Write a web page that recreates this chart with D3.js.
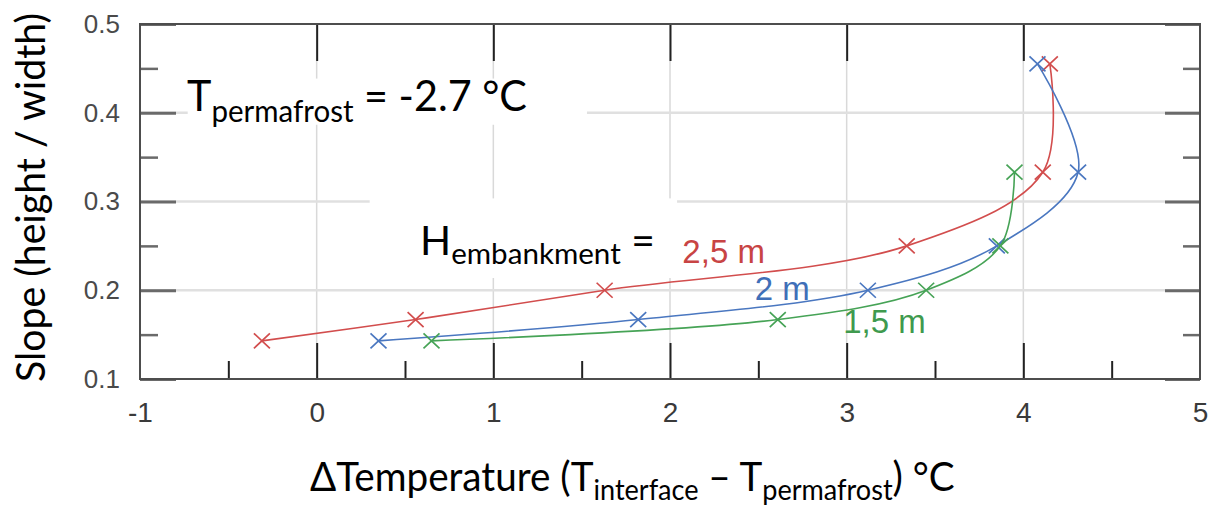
<!DOCTYPE html>
<html>
<head>
<meta charset="utf-8">
<script src="https://cdn.jsdelivr.net/npm/d3@7"></script>
<style>
  html, body { margin: 0; padding: 0; background: #fff; }
  svg { display: block; }
</style>
</head>
<body>
<svg id="chart" width="1212" height="506"></svg>
<script>
'use strict';

// slope values (height / width) shared by all runs
var slopes = [0.143, 0.167, 0.2, 0.25, 0.333, 0.455];

// delta temperature, one array per embankment height
var dT25 = [-0.31, 0.56, 1.63, 3.34, 4.11, 4.15];
var dT20 = [0.35, 1.82, 3.12, 3.85, 4.31, 4.08];
var dT15 = [0.65, 2.61, 3.45, 3.87, 3.95];

var seriesNames = ['2,5 m', '2 m', '1,5 m'];
var seriesColors = ['#d24d4d', '#4a77c0', '#46a356'];
var labelColors = ['#c84444', '#3f6fb8', '#3f9a4e'];

var xTicks = [-1, 0, 1, 2, 3, 4, 5];
var xMinor = [-0.5, 0.5, 1.5, 2.5, 3.5, 4.5];
var yTicks = [0.1, 0.2, 0.3, 0.4, 0.5];
var yMinor = [0.15, 0.25, 0.35, 0.45];

var svg = d3.select('#chart');

var x = d3.scaleLinear().domain([-1, 5]).range([140, 1200]);
var y = d3.scaleLinear().domain([0.1, 0.5]).range([379, 24]);

// grid
var grid = svg.append('g');
grid.selectAll('line.v')
  .data(xTicks.slice(1, -1))
  .enter().append('line')
  .attr('x1', function (d) { return x(d); })
  .attr('x2', function (d) { return x(d); })
  .attr('y1', y(0.5)).attr('y2', y(0.1))
  .attr('stroke', '#d9d9d9').attr('stroke-width', 1.5);
grid.selectAll('line.h')
  .data(yTicks.slice(1, -1))
  .enter().append('line')
  .attr('y1', function (d) { return y(d); })
  .attr('y2', function (d) { return y(d); })
  .attr('x1', x(-1)).attr('x2', x(5))
  .attr('stroke', '#e0e0e0').attr('stroke-width', 2.5);

// white boxes behind the annotations (they hide the grid)
svg.append('rect')
  .attr('x', x(-0.73)).attr('y', y(0.4385))
  .attr('width', x(1.53) - x(-0.73)).attr('height', y(0.4) - y(0.4385) + 12)
  .attr('fill', '#fff');
svg.append('rect')
  .attr('x', x(0.3)).attr('y', y(0.3035))
  .attr('width', x(2.04) - x(0.3)).attr('height', y(0.2138) - y(0.3035))
  .attr('fill', '#fff');

// ticks (pointing inwards)
function styleAxis(g, color, width) {
  g.select('.domain').remove();
  g.selectAll('.tick line').attr('stroke', color).attr('stroke-width', width);
}

svg.append('g').attr('transform', 'translate(140,0)')
  .call(d3.axisLeft(y).tickValues(yMinor).tickSize(-18).tickFormat(''))
  .call(styleAxis, '#6a6a6a', 2.5);
svg.append('g').attr('transform', 'translate(140,0)')
  .call(d3.axisLeft(y).tickValues(yTicks).tickSize(-36).tickPadding(20).tickFormat(d3.format('.1f')))
  .call(styleAxis, '#6a6a6a', 3)
  .call(function (g) {
    g.selectAll('text').attr('font-family', '"Liberation Sans", Arial, sans-serif')
      .attr('font-size', 26).attr('fill', '#4a4a4a');
  });
svg.append('g').attr('transform', 'translate(1200,0)')
  .call(d3.axisRight(y).tickValues(yMinor).tickSize(-17).tickFormat(''))
  .call(styleAxis, '#6a6a6a', 2.5);
svg.append('g').attr('transform', 'translate(1200,0)')
  .call(d3.axisRight(y).tickValues(yTicks).tickSize(-35).tickFormat(''))
  .call(styleAxis, '#6a6a6a', 3);

svg.append('g').attr('transform', 'translate(0,379)')
  .call(d3.axisBottom(x).tickValues(xMinor).tickSize(-18).tickFormat(''))
  .call(styleAxis, '#222', 2);
svg.append('g').attr('transform', 'translate(0,379)')
  .call(d3.axisBottom(x).tickValues(xTicks.slice(1, -1)).tickSize(-36).tickFormat(''))
  .call(styleAxis, '#222', 2);
svg.append('g').attr('transform', 'translate(0,379)')
  .call(d3.axisBottom(x).tickValues(xTicks).tickSize(0).tickPadding(23)
    .tickFormat(function (d) { return String(d); }))
  .call(styleAxis, '#222', 2)
  .call(function (g) {
    g.selectAll('text').attr('font-family', '"Liberation Sans", Arial, sans-serif')
      .attr('font-size', 28).attr('fill', '#3a3a3a');
  });
svg.append('g').attr('transform', 'translate(0,24)')
  .call(d3.axisTop(x).tickValues(xTicks.slice(1, -1)).tickSize(-37).tickFormat(''))
  .call(styleAxis, '#222', 2);

// frame
svg.append('rect')
  .attr('x', 140).attr('y', 24)
  .attr('width', 1060).attr('height', 355)
  .attr('fill', 'none').attr('stroke', '#4d4d4d').attr('stroke-width', 2);

// curves
var runs = [dT25, dT20, dT15].map(function (vals, i) {
  return {
    name: seriesNames[i],
    color: seriesColors[i],
    points: vals.map(function (v, j) { return [v, slopes[j]]; })
  };
});

var line = d3.line()
  .x(function (d) { return x(d[0]); })
  .y(function (d) { return y(d[1]); })
  .curve(d3.curveCatmullRom.alpha(0.5));

var runG = svg.selectAll('g.run').data(runs).enter().append('g').attr('class', 'run');
runG.append('path')
  .attr('d', function (d) { return line(d.points); })
  .attr('fill', 'none')
  .attr('stroke', function (d) { return d.color; })
  .attr('stroke-width', 1.6);
runG.each(function (d) {
  d3.select(this).selectAll('path.mk')
    .data(d.points)
    .enter().append('path')
    .attr('class', 'mk')
    .attr('transform', function (p) { return 'translate(' + x(p[0]) + ',' + y(p[1]) + ')'; })
    .attr('d', 'M-8,-7.5L8,7.5M-8,7.5L8,-7.5')
    .attr('stroke', d.color)
    .attr('stroke-width', 1.7)
    .attr('fill', 'none');
});

// curve labels
var labelX = [2.07, 2.48, 2.98];
var labelY = [0.2307, 0.1887, 0.1515];
svg.selectAll('text.rl')
  .data(seriesNames)
  .enter().append('text')
  .attr('class', 'rl')
  .attr('x', function (d, i) { return x(labelX[i]); })
  .attr('y', function (d, i) { return y(labelY[i]); })
  .attr('font-family', '"Liberation Sans", Arial, sans-serif')
  .attr('font-size', 33)
  .attr('fill', function (d, i) { return labelColors[i]; })
  .text(function (d) { return d; });

// squeeze a text horizontally so it spans the given width starting at x0
function fit(t, x0, width) {
  var b = t.node().getBBox();
  var k = width / b.width;
  t.attr('transform', 'translate(' + x0 + ',0) scale(' + k + ',1) translate(' + (-b.x) + ',0)');
}

var calibri = 'Lato, "Open Sans", sans-serif';

function subText(parent, parts, baseY, big, small, shift) {
  var t = parent.append('text')
    .attr('x', 0).attr('y', baseY)
    .attr('font-family', calibri)
    .attr('fill', '#000');
  parts.forEach(function (p, i) {
    var s = t.append('tspan')
      .attr('font-size', p.sub ? small : big)
      .text(p.text);
    if (i > 0) {
      var prevSub = parts[i - 1].sub;
      if (p.sub && !prevSub) s.attr('dy', shift);
      if (!p.sub && prevSub) s.attr('dy', -shift);
    }
  });
  return t;
}

var tp = subText(svg, [
  { text: 'T' }, { text: 'permafrost', sub: true }, { text: ' = -2.7 °C' }
], 111, 42, 30, 11);
fit(tp, 187, 340);

var he = subText(svg, [
  { text: 'H' }, { text: 'embankment', sub: true }, { text: '  =' }
], 255, 40, 29, 9);
fit(he, 420, 235);

var xt = subText(svg, [
  { text: 'ΔTemperature (T' }, { text: 'interface', sub: true },
  { text: ' – T' }, { text: 'permafrost', sub: true }, { text: ') °C' }
], 491, 40, 28, 9);
fit(xt, 310, 645);

var yg = svg.append('g').attr('transform', 'translate(45,382) rotate(-90)');
var yt = yg.append('text')
  .attr('x', 0).attr('y', 0)
  .attr('font-family', calibri)
  .attr('font-size', 40)
  .attr('fill', '#000')
  .text('Slope (height / width)');
fit(yt, 0, 369);
</script>
</body>
</html>
